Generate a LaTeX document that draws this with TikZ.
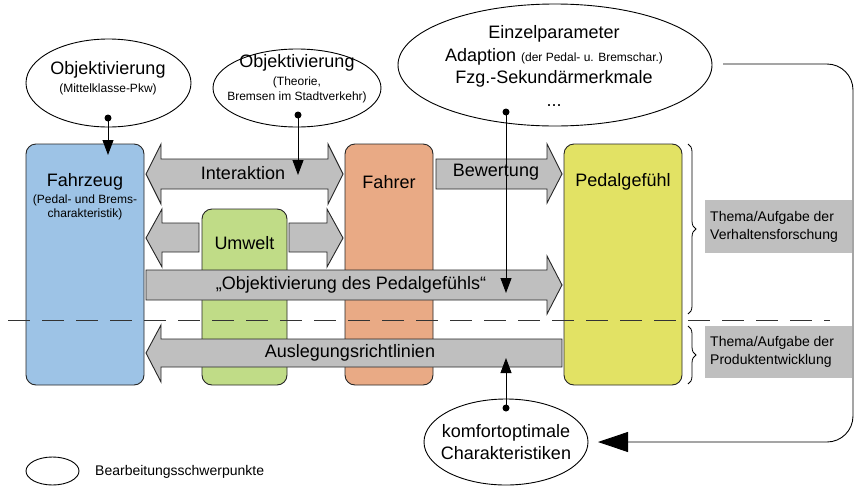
\documentclass[tikz,border=0pt]{standalone}
\usepackage{fontspec}
\setmainfont{Liberation Sans}
\usetikzlibrary{arrows.meta,shapes.geometric,decorations.pathreplacing}
\definecolor{cblue}{HTML}{9DC3E6}
\definecolor{cgreen}{HTML}{C0DC87}
\definecolor{corange}{HTML}{E9AA85}
\definecolor{cyellow}{HTML}{E2E264}
\definecolor{cgray}{HTML}{BFBFBF}
\begin{document}
\begin{tikzpicture}[x=1pt,y=-1pt,
  rbox/.style={draw=black!85, line width=0.9pt, rounded corners=10pt, inner sep=0pt},
  ell/.style={ellipse, draw, line width=0.9pt, inner sep=0pt, fill=white},
  barrow/.style={draw=black!85, fill=cgray, line width=0.9pt, line join=miter},
  big/.style={font=\fontsize{18}{22.5}\selectfont, align=center, inner sep=0pt},
  small/.style={font=\fontsize{12}{15}\selectfont, align=center, inner sep=0pt},
  lbl/.style={font=\fontsize{14}{18}\selectfont, align=left, inner sep=0pt},
  conn/.style={line width=0.9pt, -{Triangle[length=15pt,width=11pt]}},
  dot/.style={circle, fill, inner sep=0pt, minimum size=7pt},
  graybox/.style={fill=cgray, inner sep=0pt},
]
\path[use as bounding box] (0,0) rectangle (854,485);

% ellipses
\node[ell, minimum width=165pt, minimum height=88pt] (e1) at (108.5,83) {};
\node[big] (e1t) at (108,70) {Objektivierung};
\node[small] (e1s) at (108,89) {(Mittelklasse-Pkw)};

\node[ell, minimum width=168pt, minimum height=78pt] (e2) at (297,88) {};
\node[big] (e2t) at (297,63) {Objektivierung};
\node[small] (e2s) at (297,89.5) {(Theorie,\\Bremsen im Stadtverkehr)};

\node[ell, minimum width=314pt, minimum height=122pt] (e3) at (555,65) {};
\node[big] (e3t) at (554,66) {Einzelparameter\\Adaption {\fontsize{12}{14}\selectfont (der Pedal- u. Bremschar.)}\\Fzg.-Sekundärmerkmale\\...};

\node[ell, minimum width=164pt, minimum height=86pt] (e4) at (506,442) {};
\node[big] (e4t) at (506,442) {komfortoptimale\\Charakteristiken};

\node[ell, minimum width=53pt, minimum height=28pt] (e5) at (52.5,471) {};
\node[lbl, anchor=west] (e5t) at (95,472) {Bearbeitungsschwerpunkte};

% rounded boxes
\node[rbox, fill=cblue, minimum width=118pt, minimum height=241pt] (fzg) at (85,264.5) {};
\node[rbox, fill=cgreen, minimum width=85pt, minimum height=176pt] (umw) at (244.5,297) {};
\node[rbox, fill=corange, minimum width=88pt, minimum height=241pt] (fah) at (389,264.5) {};
\node[rbox, fill=cyellow, minimum width=118pt, minimum height=241pt] (ped) at (623,264.5) {};

\node[big] (fzgt) at (85,182) {Fahrzeug};
\node[small, font=\fontsize{12}{14}\selectfont] (fzgs) at (85,207) {(Pedal- und Brems-\\charakteristik)};
\node[big] (umwt) at (244.5,243) {Umwelt};
\node[big] (faht) at (389,182) {Fahrer};
\node[big] (pedt) at (623,182) {Pedalgefühl};

% block arrows
\draw[barrow] (146,174) -- (161,144) -- (161,159) -- (328,159) -- (328,144) -- (343,174)
  -- (328,204) -- (328,189) -- (161,189) -- (161,204) -- cycle;
\node[big] (inter) at (243,173) {Interaktion};

\draw[barrow] (146,238) -- (162,209) -- (162,223) -- (199,223) -- (199,252) -- (162,252) -- (162,267) -- cycle;
\draw[barrow] (289,223) -- (327,223) -- (327,209) -- (343,238) -- (327,267) -- (327,252) -- (289,252) -- cycle;

\draw[barrow] (146,270) -- (547,270) -- (547,256) -- (562,285) -- (547,314) -- (547,300) -- (146,300) -- cycle;
\node[big] (obj) at (351,285) {„Objektivierung des Pedalgefühls“};

\draw[barrow] (436,159) -- (547,159) -- (547,144) -- (562,174) -- (547,203) -- (547,189) -- (436,189) -- cycle;
\node[big] (bew) at (496,172) {Bewertung};

\draw[barrow] (562,339) -- (161,339) -- (161,325) -- (146,353) -- (161,382) -- (161,367) -- (562,367) -- cycle;
\node[big] (ausl) at (350,353) {Auslegungsrichtlinien};

% dashed separator
\coordinate (dl) at (8,320);
\coordinate (dr) at (830,320);
\draw[line width=0.9pt, black!80, dash pattern=on 22pt off 12pt] (dl) -- (dr);

% braces
\coordinate (b1a) at (688,144);
\coordinate (b1b) at (688,314);
\coordinate (b2a) at (688,326);
\coordinate (b2b) at (688,384);
\draw[line width=0.8pt, decorate, decoration={brace, amplitude=8pt}] (b1a) -- (b1b);
\draw[line width=0.8pt, decorate, decoration={brace, amplitude=8pt}] (b2a) -- (b2b);

% gray labels
\node[graybox, minimum width=147pt, minimum height=53pt] (g1) at (778.5,226.5) {};
\node[lbl, anchor=west] (g1t) at (710,226.5) {Thema/Aufgabe der\\Verhaltensforschung};
\node[graybox, minimum width=147pt, minimum height=52pt] (g2) at (778.5,352) {};
\node[lbl, anchor=west] (g2t) at (710,351.5) {Thema/Aufgabe der\\Produktentwicklung};

% connectors
\node[dot] (d1) at (108,118) {};
\coordinate (t1) at (108,155);
\draw[conn] (d1.center) -- (t1);

\node[dot] (d2) at (298,115) {};
\coordinate (t2) at (298,175);
\draw[conn] (d2.center) -- (t2);

\node[dot] (d3) at (506,112) {};
\coordinate (t3) at (506,293);
\draw[conn] (d3.center) -- (t3);

\node[dot] (d4) at (506,408) {};
\coordinate (t4) at (506,358);
\draw[conn] (d4.center) -- (t4);

% loop connector
\coordinate (c0) at (723,64);
\coordinate (c1) at (853,64);
\coordinate (c2) at (853,442);
\coordinate (c3) at (598,442);
\draw[line width=0.9pt, rounded corners=26pt, -{Triangle[length=30pt,width=20pt]}] (c0) -- (c1) -- (c2) -- (c3);
\end{tikzpicture}
\end{document}
